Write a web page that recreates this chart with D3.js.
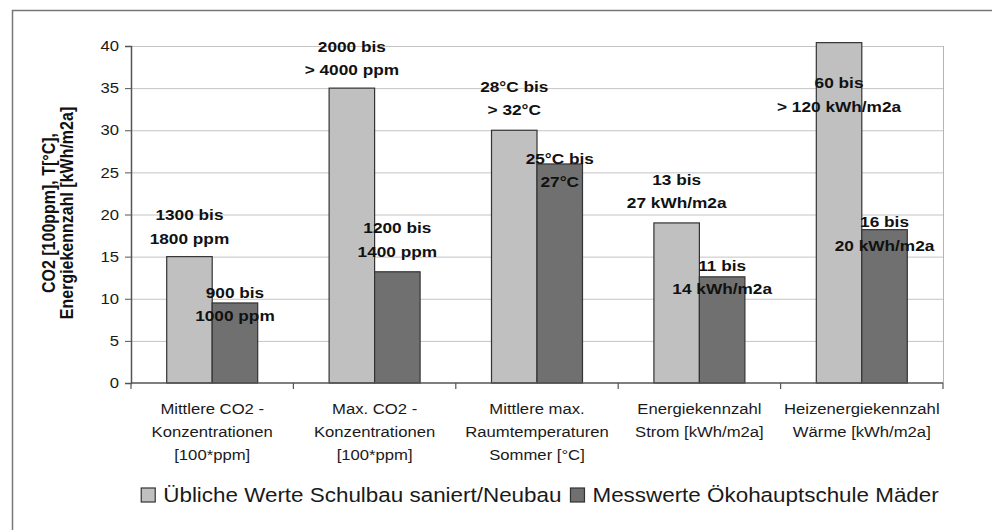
<!DOCTYPE html>
<html>
<head>
<meta charset="utf-8">
<script src="https://cdn.jsdelivr.net/npm/d3@7/dist/d3.min.js"></script>
<style>
  html, body { margin: 0; padding: 0; background: #fff; }
  svg { display: block; font-family: Arial, "Liberation Sans", sans-serif; }
</style>
</head>
<body>
<svg id="chart" width="992" height="530"></svg>
<script>
// Categories (multi-line axis labels)
const categories = [
  ["Mittlere CO2 -", "Konzentrationen", "[100*ppm]"],
  ["Max. CO2 -", "Konzentrationen", "[100*ppm]"],
  ["Mittlere max.", "Raumtemperaturen", "Sommer [°C]"],
  ["Energiekennzahl", "Strom [kWh/m2a]"],
  ["Heizenergiekennzahl", "Wärme [kWh/m2a]"]
];
const seriesNames = ["Übliche Werte Schulbau saniert/Neubau", "Messwerte Ökohauptschule Mäder"];

// Bar values
const typicalValues = [15, 35, 30, 19, 40.4];
const measuredValues = [9.5, 13.2, 26, 12.6, 18.2];

// Value range labels written next to the bars
const typicalLabels = [
  ["1300 bis", "1800 ppm"],
  ["2000 bis", "> 4000 ppm"],
  ["28°C bis", "> 32°C"],
  ["13 bis", "27 kWh/m2a"],
  ["60 bis", "> 120 kWh/m2a"]
];
const measuredLabels = [
  ["900 bis", "1000 ppm"],
  ["1200 bis", "1400 ppm"],
  ["25°C bis", "27°C"],
  ["11 bis", "14 kWh/m2a"],
  ["16 bis", "20 kWh/m2a"]
];

const yTicks = [0, 5, 10, 15, 20, 25, 30, 35, 40];
const yTitle = ["CO2 [100ppm], T[°C],", "Energiekennzahl [kWh/m2a]"];

// ---- layout ----
const SX = 1.15;                       // horizontal widening of the lettering
const plot = { left: 131, right: 943, top: 46, bottom: 383 };
const colors = ["#c0c0c0", "#707070"];
// vertical shift (px) of each label block's middle relative to its bar top
const labelShift = [
  [-30, -30, -32, -32, 52],
  [1, -32, 6, 0, 4]
];

const svg = d3.select("#chart");

// outer frame
svg.append("path")
  .attr("d", "M12.5,530 V10.5 H992")
  .attr("fill", "none").attr("stroke", "#777").attr("stroke-width", 1.5);

const x0 = d3.scaleBand()
  .domain(d3.range(categories.length))
  .range([plot.left, plot.right])
  .paddingInner(0).paddingOuter(0);

const x1 = d3.scaleBand()
  .domain([0, 1])
  .range([0, x0.bandwidth()])
  .paddingInner(0).paddingOuter(0.785);

const y = d3.scaleLinear().domain([0, 40]).range([plot.bottom, plot.top]);

// gridlines
svg.append("g")
  .selectAll("line")
  .data(yTicks.filter(d => d > 0))
  .join("line")
  .attr("x1", plot.left).attr("x2", plot.right)
  .attr("y1", d => y(d) + 0.5).attr("y2", d => y(d) + 0.5)
  .attr("stroke", "#c4c4c4").attr("stroke-width", 1);

// right border of plot area
svg.append("line")
  .attr("x1", plot.right + 0.5).attr("x2", plot.right + 0.5)
  .attr("y1", plot.top).attr("y2", plot.bottom)
  .attr("stroke", "#b4b4b4");

// bars
const series = [typicalValues, measuredValues];
const barG = svg.append("g");
series.forEach((vals, s) => {
  barG.selectAll(null)
    .data(vals)
    .join("rect")
    .attr("x", (d, i) => x0(i) + x1(s))
    .attr("width", x1.bandwidth())
    .attr("y", d => y(d))
    .attr("height", d => y(0) - y(d))
    .attr("fill", colors[s])
    .attr("stroke", "#333")
    .attr("stroke-width", 1.2);
});

// y axis
const yAxis = svg.append("g")
  .attr("transform", `translate(${plot.left},0)`)
  .call(d3.axisLeft(y).tickValues(yTicks).tickSize(6).tickPadding(9).tickFormat(d3.format("d")));
yAxis.select(".domain").attr("stroke", "#555").attr("stroke-width", 1.5);
yAxis.selectAll(".tick line").attr("stroke", "#555");
yAxis.selectAll(".tick text")
  .attr("font-size", 14.5)
  .attr("fill", "#1a1a1a")
  .attr("font-family", "Arial, 'Liberation Sans', sans-serif")
  .attr("x", -12 / SX)
  .attr("transform", `scale(${SX},1)`);

// x axis with ticks at category boundaries
const xAxisG = svg.append("g").attr("transform", `translate(0,${plot.bottom})`);
xAxisG.append("line")
  .attr("x1", plot.left).attr("x2", plot.right)
  .attr("stroke", "#555").attr("stroke-width", 1.5);
const boundaries = d3.range(categories.length + 1).map(i => i === categories.length ? plot.right : x0(i));
xAxisG.selectAll(".bt")
  .data(boundaries)
  .join("line")
  .attr("x1", d => d).attr("x2", d => d)
  .attr("y1", 0).attr("y2", 6)
  .attr("stroke", "#555").attr("stroke-width", 1.2);

// category labels
const catG = svg.append("g");
categories.forEach((lines, i) => {
  const cx = x0(i) + x0.bandwidth() / 2;
  lines.forEach((t, k) => {
    catG.append("text")
      .attr("transform", `translate(${cx},${409 + k * 23}) scale(${SX},1)`)
      .attr("text-anchor", "middle")
      .attr("dy", "0.36em")
      .attr("font-size", 14.5)
      .attr("fill", "#1a1a1a")
      .text(t);
  });
});

// value range labels
const labelSets = [typicalLabels, measuredLabels];
const lblG = svg.append("g");
labelSets.forEach((set, s) => {
  set.forEach((lines, i) => {
    const cx = x0(i) + x1(s) + x1.bandwidth() / 2;
    const top = Math.max(y(series[s][i]), plot.top - 4);
    const mid = top + labelShift[s][i];
    lines.forEach((t, k) => {
      lblG.append("text")
        .attr("transform", `translate(${cx},${mid + (k - 0.5) * 23.5}) scale(${SX},1)`)
        .attr("text-anchor", "middle")
        .attr("dy", "0.36em")
        .attr("font-size", 15)
        .attr("font-weight", "bold")
        .attr("fill", "#111")
        .text(t);
    });
  });
});

// y axis title
const titleG = svg.append("g");
yTitle.forEach((t, k) => {
  titleG.append("text")
    .attr("transform", `translate(${48 + k * 18},${213}) scale(${SX},1) rotate(-90)`)
    .attr("text-anchor", "middle")
    .attr("dy", "0.36em")
    .attr("font-size", 16)
    .attr("font-weight", "bold")
    .attr("fill", "#111")
    .text(t);
});

// legend
const legG = svg.append("g");
const legY = 495;
let lx = 0;
const items = [];
seriesNames.forEach((name, s) => {
  const g = legG.append("g");
  g.append("rect")
    .attr("x", 0).attr("y", -7).attr("width", 14).attr("height", 14)
    .attr("fill", colors[s]).attr("stroke", "#333").attr("stroke-width", 1.2);
  const txt = g.append("text")
    .attr("transform", `translate(22,0) scale(${SX},1)`)
    .attr("dy", "0.36em")
    .attr("font-size", 19.5)
    .attr("fill", "#1a1a1a")
    .text(name);
  const w = 22 + txt.node().getComputedTextLength() * SX;
  items.push({ g, w });
});
const gap = 9;
const totalW = d3.sum(items, d => d.w) + gap * (items.length - 1);
lx = (138 + 942) / 2 - totalW / 2;
items.forEach(it => {
  it.g.attr("transform", `translate(${lx},${legY})`);
  lx += it.w + gap;
});
</script>
</body>
</html>
